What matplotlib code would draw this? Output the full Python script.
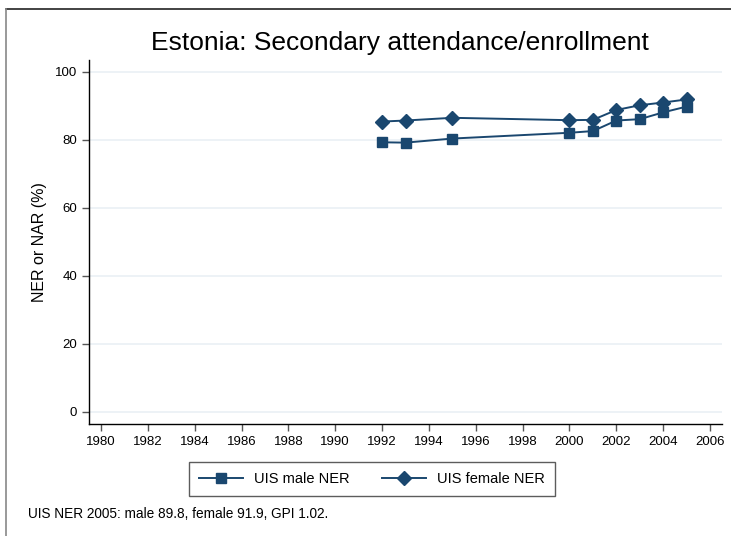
import matplotlib
matplotlib.use("Agg")
import matplotlib.pyplot as plt
from matplotlib.lines import Line2D

plt.rcParams['font.family'] = ['Liberation Sans', 'DejaVu Sans']

years_male = [1992, 1993, 1995, 2000, 2001, 2002, 2003, 2004, 2005]
male_ner = [79.3, 79.2, 80.4, 82.1, 82.6, 85.7, 86.1, 88.1, 89.8]
years_female = [1992, 1993, 1995, 2000, 2001, 2002, 2003, 2004, 2005]
female_ner = [85.4, 85.7, 86.5, 85.8, 85.9, 88.8, 90.2, 91.0, 91.9]
xticks = list(range(1980, 2007, 2))
yticks = [0, 20, 40, 60, 80, 100]
title = "Estonia: Secondary attendance/enrollment"
note = "UIS NER 2005: male 89.8, female 91.9, GPI 1.02."

W, H = 731, 536
fig = plt.figure(figsize=(W / 100, H / 100), dpi=100)
navy = '#1a476f'

ax = fig.add_axes([89 / W, 1 - 423.5 / H, (722 - 89) / W, (423.5 - 60) / H])
for y in yticks:
    ax.axhline(y, color='#eaf0f5', lw=1.2, zorder=0)
ax.plot(years_male, male_ner, color=navy, lw=1.4, marker='s', ms=6.5, label='UIS male NER', zorder=3)
ax.plot(years_female, female_ner, color=navy, lw=1.4, marker='D', ms=7, label='UIS female NER', zorder=3)

ax.set_xlim(1979.49, 2006.51)
ax.set_ylim(-3.4, 103.5)
ax.set_xticks(xticks)
ax.set_yticks(yticks)
ax.tick_params(axis='both', labelsize=9.5, length=5, width=1, color='#555555')
ax.tick_params(axis='x', pad=4)
ax.spines['top'].set_visible(False)
ax.spines['right'].set_visible(False)
ax.spines['left'].set_linewidth(1)
ax.spines['bottom'].set_linewidth(1)
ax.set_ylabel("NER or NAR (%)", fontsize=11.5, labelpad=6)

fig.text(400 / W, 1 - 43 / H, title, ha='center', va='center', fontsize=19)

# outer frame
fig.add_artist(Line2D([6 / W, 1], [1 - 9 / H, 1 - 9 / H], color='#222222', lw=1.2, transform=fig.transFigure))
fig.add_artist(Line2D([6 / W, 6 / W], [1 - 9 / H, 0], color='#888888', lw=1.2, transform=fig.transFigure))

handles, labels = ax.get_legend_handles_labels()
leg = fig.legend(handles, labels, loc='center', bbox_to_anchor=(372 / W, 1 - 479 / H), ncol=2,
                 fontsize=10.5, frameon=True, fancybox=False, edgecolor='#333333',
                 handlelength=3, columnspacing=2.2, borderpad=0.7, handletextpad=0.8)
leg.get_frame().set_linewidth(1)

fig.text(28 / W, 1 - 514 / H, note, ha='left', va='center', fontsize=9.8)

fig.savefig('out.png', dpi=100)
